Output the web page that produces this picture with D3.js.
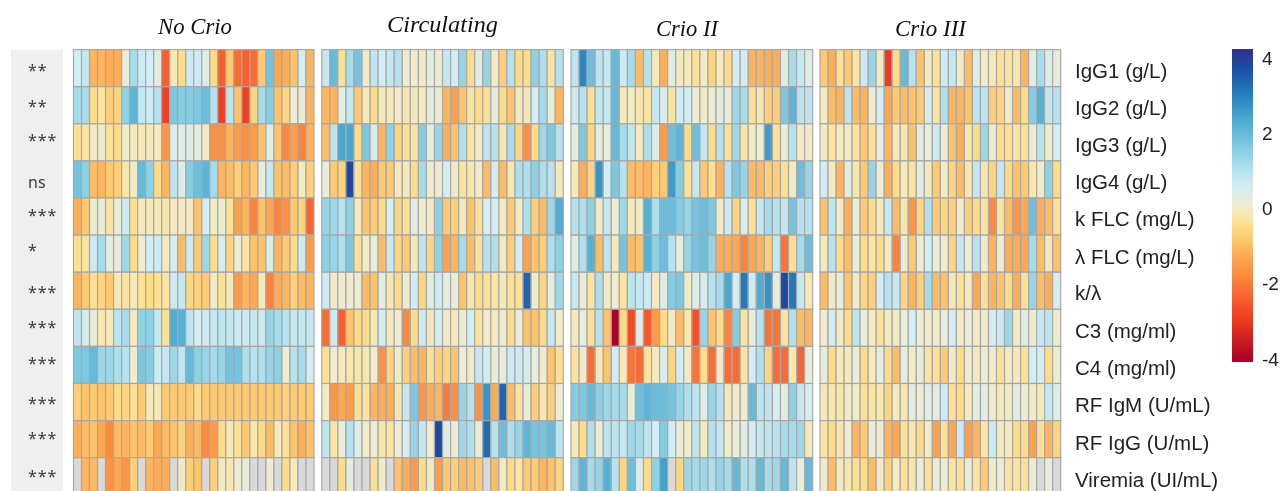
<!DOCTYPE html>
<html><head><meta charset="utf-8">
<script src="https://cdn.jsdelivr.net/npm/d3@7/dist/d3.min.js"></script>
<style>html,body{margin:0;padding:0;background:#fff;overflow:hidden}svg{display:block;filter:blur(0.35px)}</style>
</head><body><div id="chart"></div>
<script>
const rowLabels=["IgG1 (g/L)","IgG2 (g/L)","IgG3 (g/L)","IgG4 (g/L)","k FLC (mg/L)","λ FLC (mg/L)","k/λ","C3 (mg/ml)","C4 (mg/ml)","RF IgM (U/mL)","RF IgG (U/mL)","Viremia (UI/mL)"];
const significance=["**","**","***","ns","***","*","***","***","***","***","***","***"];
const panelTitles=["No Crio","Circulating","Crio II","Crio III"];
const legendTicks=[4,2,0,-2,-4];
const _=null;
const noCrio=[
[0.6,0.8,-1.1,-1.1,-1.2,-1.2,0.2,1.2,0.7,0.6,0.3,-2.4,-0.1,-0.5,0.7,0.7,0.4,-0.5,-2.4,-0.8,-2.2,-2.4,-2.2,-0.8,1.8,-1.3,-1.2,-0.9,0.6,-1.1],
[1.2,1.2,-0.5,-0.3,-0.7,-0.6,1.5,2.1,0.8,0.7,1.0,-2.9,1.7,1.6,1.6,1.7,1.9,1.0,-2.9,0.9,-0.9,-2.9,-0.6,1.2,1.6,-0.9,-0.6,0.1,0.2,-1.1],
[-0.4,-0.3,0,0.1,-0.4,-0.5,0.05,-0.05,-0.1,-0.1,-0.05,-1.6,0.5,0.4,0.4,0.3,0,-1.7,-1.7,-1.1,-1.5,-1.7,-1.5,-0.9,0.4,-0.9,-1.8,-1.4,-1.9,-1.1],
[1.8,1.5,-1,-1.1,-0.8,-0.7,-0.2,0,2.0,1.5,-0.5,-1.1,0.9,0.4,1.6,1.9,2.1,1.2,-1.1,-1,-0.7,-1.1,-0.8,0.2,0.8,-0.9,-1.0,-0.7,0,-0.7],
[-1.2,-0.8,0.1,0.2,-0.3,0.2,0.7,-0.4,-0.1,-0.1,-0.1,-0.2,-0.1,0,0,-0.9,0.6,0,0.1,-0.4,-1.4,-1.1,-1.9,-0.9,-1.3,-1.9,-1.7,-0.8,-0.6,-2.3],
[-0.4,-0.3,0.7,1.2,0.3,0.2,1.3,-0.5,0.1,0.6,0.7,-0.1,0.6,-1.0,0.7,-0.8,1.3,-0.5,0.6,-0.6,0.1,-0.3,-0.9,-0.9,0.5,-1.1,-0.8,-0.5,0.7,-1.5],
[-1.1,-0.8,-0.4,-0.6,-0.8,-0.1,-0.3,-0.1,-0.4,-0.5,-0.4,-0.3,0.7,0.8,-0.6,-0.7,-0.8,0,-0.4,-0.1,-1.5,-1.1,-1.3,-0.1,-1.9,-1.2,-1.1,-0.7,-1.0,-1.1],
[0.9,0.5,0.2,-0.2,-0.1,0.9,1.2,-0.1,1.5,1.5,0.8,-0.4,2.3,2.2,0.9,0.5,0.7,0.8,0.9,0.8,0.7,0.7,0.8,0.7,1.4,1.2,1.0,0.8,0.8,0.8],
[1.7,1.7,2.0,1.3,1.3,1.1,1.0,0.1,1.7,1.6,0.7,0.8,1.3,0.9,2.0,1.5,1.4,1.2,1.4,1.8,1.8,1.1,1,1.1,1.4,1.5,0.1,1.0,1.2,0.5],
[-0.7,-0.9,-0.8,-0.9,-0.8,-0.5,-0.6,-0.4,-0.8,-0.1,-0.1,-0.8,-0.8,-0.8,-0.8,-0.5,-0.8,-0.8,-0.8,-0.8,-0.8,-0.8,-0.8,-0.8,-0.8,-0.8,-0.7,-0.8,-0.8,-0.8],
[-1.2,-1,-0.9,-1.3,-1.8,-1,-1.1,-0.9,-1,-0.8,-1.3,-1,-0.9,-0.6,-1.2,-1,-1.8,-1.5,-0.5,-0.1,-0.4,-0.8,-0.2,-0.5,-1,-0.1,-0.4,-0.9,-1.2,-0.9],
[_,-1.1,-1,_,-1.6,-1.3,-1.6,-0.7,_,-1.1,-1.2,-1.2,_,0,-0.7,-0.9,_,-0.7,0,-0.2,0.1,0.2,_,_,0.1,_,-0.5,-0.1,_,_]];
const circulating=[
[0.8,2.0,-0.4,1.2,1.8,0,0.9,0.6,0.8,1.0,0.1,0.05,0,0.3,0.1,0.8,0.6,1.4,-0.5,0.3,1.4,0,-0.7,1.0,-0.5,-0.5,1.5,1.1,-0.3,1.0],
[-1.1,-1.1,0.3,0.8,-0.8,-0.1,-0.5,-0.1,-0.1,0,-0.2,-0.1,-0.1,0.4,0.1,-1.1,-1.4,-0.9,-0.3,-0.5,-0.4,0.2,-0.5,-0.9,0,-0.1,0.6,1.2,0.2,-1.1],
[-1,0.9,2.4,2.4,-0.5,1.7,0.5,-1.1,1.5,-0.6,-0.4,-0.3,1.6,0.3,1.4,-1.2,-0.9,1.1,-0.3,0,0.9,1,-0.2,1.2,-0.6,-1.7,-0.5,1.3,1.7,1.0],
[0.2,-0.8,-0.6,3.8,-0.4,-1.1,-1.2,-0.8,-0.8,-0.1,-0.1,-0.5,1.2,0.05,0.1,0.6,0,-0.3,-0.2,0,-1,0.5,-1.0,-0.2,1.1,1.1,1.5,1.1,1.0,-0.1],
[1.4,1.3,1.0,1.5,-0.1,-0.9,-0.8,-0.5,0.6,-0.6,-0.4,0.4,0.05,0,1.5,-0.8,-0.7,-0.1,-0.9,-0.4,0.6,0.6,0,-0.8,-0.05,1.1,-0.7,-1,1.3,2.3],
[1.5,1.4,1.1,1.7,-0.4,0,0.2,-1,0.8,-0.6,-0.8,-0.1,0.9,-0.6,1.5,-1.4,-1.1,1.2,-1,-0.4,1,1.1,-0.1,-0.7,0.5,-1.4,-0.9,-0.7,1.1,1.5],
[0.7,0,0.1,0.1,0.1,-1,-0.9,0.3,-0.2,-0.5,0.1,0.6,-0.6,0.4,0.7,0.3,0.2,-0.9,-0.2,-0.5,-0.4,-0.3,-0.1,-0.4,-0.4,3.4,0.05,-0.6,0.3,1.3],
[-2.2,0.7,-2.4,-0.9,-0.5,-0.5,-0.2,0.6,-0.1,0.1,-1.8,-0.5,0.7,-0.1,0.6,0,-0.1,0.1,0.6,-0.4,0.05,-0.1,0.1,-0.5,0.2,-0.9,-0.9,-0.5,0.8,0],
[-0.4,0.1,-0.1,-0.2,-0.2,-0.2,0.05,-1.7,-0.6,0,-0.7,-1,-1.1,-0.4,-0.7,-0.6,-0.9,0.2,0,0.8,0.6,0.2,0.2,0.7,0.7,0.5,0.2,0.1,-0.9,-0.4],
[0,-1.6,-1.3,-1.5,-0.4,-0.3,-1.1,-1.2,-1.2,-0.2,0.8,1.7,-1.6,-1.2,-1.1,-2,-1.7,1.4,1.0,-1.7,2.7,-1.2,3.4,-1,-0.3,0.2,-0.7,-0.2,-0.7,0.1],
[0.9,-0.3,0.2,1.0,0.4,0,0.1,-0.2,-0.3,0.1,0.6,1.4,0.8,0.05,3.8,0.4,0.1,1.3,1.1,0.2,3.3,1.0,1.9,1.1,1.4,2.1,1.8,1.8,2.0,0.9],
[_,_,-0.5,0.3,_,_,-0.4,0.05,_,-0.9,-1.2,-1.5,-0.5,0,-1.5,-0.8,-0.7,-1,-0.9,-0.8,_,-1,0,-0.5,-0.3,-0.8,-0.8,-1.1,-0.9,-0.6]];
const crioII=[
[0.9,2.9,1.9,0.9,0.8,2.0,0.7,1.2,-1,1,-0.1,-1.2,0.4,-0.05,-0.1,-0.4,0,-0.6,-0.1,-0.5,0.6,0.6,-1.1,-1.1,-1.2,-1.2,0.3,1.2,0.8,0.4],
[0.7,1.0,-0.4,0.8,0.8,2.0,-0.1,0,-0.2,-0.3,0.8,0.5,-0.3,0.6,0.6,0.1,0,0.1,0.3,0.2,1.3,1.2,-0.4,-0.2,-0.7,-0.7,1.7,2.1,0.9,0.9],
[0.3,1.7,-0.6,0.3,0.2,2.0,1.2,0.8,-0.1,1.1,0.4,-1.5,1.9,2.1,-0.5,1.9,0.8,-0.5,1.0,-0.4,1.3,-0.3,0,0.1,2.6,-0.4,0.1,1,0,-0.05],
[-0.1,-1.2,-0.6,2.7,0.6,1.7,1,-1,-1,-1.1,-0.7,-0.8,2.6,1.6,-0.4,0.8,-0.8,-0.4,-1.1,1,1.7,1.4,-1,-1,-0.7,-0.7,-0.4,0,1.9,1.4],
[1,1.1,1.5,0,0.8,0.1,1.3,-0.1,0,2.2,1.1,1.9,1.9,1.6,1.4,1.8,1.9,1.7,0,0.7,-0.6,0.5,-0.4,0.8,1.2,1,0.8,1.8,1,1],
[0.4,1.1,2.2,-1,0.9,-0.1,1.8,-1,-0.9,2.2,1.5,1.9,1.0,0.2,1.4,1.8,1.9,1.4,-1.2,-1.2,-1.3,-1.9,-1.3,-1.1,-0.7,0.8,-2.1,-0.4,1.2,1.9],
[0.8,0.2,-0.3,1.1,0,0.1,-0.3,0.9,0.8,0.7,-0.05,0.4,1.6,1.7,0,0.4,0.5,1,1.2,2.4,0.5,3.1,0.7,2.3,2.7,0.3,3.8,3.1,0.8,-0.2],
[-0.1,0.3,-0.4,1,-0.9,-4,-0.5,-2.7,0.4,-2.5,-1.5,-0.5,0,-1,-0.2,-2.6,1.4,-0.9,-0.5,-1.9,1.6,-0.3,0.2,1,-2.1,-2.1,-0.3,1.1,-1,-1.1],
[-0.3,0,-2.2,-0.1,-0.9,0.6,-0.1,-2.1,-2.2,-0.3,-0.1,0.5,-0.6,0.6,0,-2.1,-0.5,-2.2,0,-2.2,-2.2,-0.3,0.6,1.1,-0.6,-2.2,-2.2,-0.2,-2.3,0.2],
[1.6,1.7,2.0,1.5,1.3,1.2,1.2,0.2,1.9,2.1,1.9,1.9,1.8,1.4,1.1,0.9,0.4,1.4,1,-0.1,0.05,0.1,2.0,0.9,0.9,0.5,0.3,1.5,0.8,0.6],
[-0.1,-0.5,1.1,0.1,0.9,0.9,0.8,1.3,1.2,0.9,0.6,1.6,0.6,0.2,0,0.9,-0.1,1,0.8,0,0.2,0.3,0.6,0.8,0.9,1,1.2,1.2,1.3,-0.1],
[1.3,2.1,1.2,1.4,2.2,1,-0.6,1.9,0.5,-0.5,1.5,2.5,_,-0.6,1.3,1.2,1.3,1.1,1.4,1.2,2,1.1,1.1,2,1.2,1.3,2,0.9,0.2,2]];
const crioIII=[
[-0.8,-1.2,-0.4,-0.8,-0.3,0.7,1.4,0,-3,-0.5,2.0,1,-0.9,-0.05,-0.4,0.7,0.8,0,-1,0.4,0,-0.1,-0.4,-0.3,-0.2,-1.1,0.3,1.2,0.4,0.2],
[-0.05,-1,-1.1,0.9,-1,-1.1,0.1,0.6,-1.3,-0.8,-1,-0.9,-0.8,0.5,-0.3,1.1,-1.1,-1.1,-0.9,0.9,0.9,-0.7,-0.6,0.05,-1,-0.5,1.6,2.2,0.8,1],
[0,-0.3,-0.05,0,-0.3,-0.8,-0.4,0.3,-1.1,-0.1,-0.2,-0.9,0.3,0.2,0.7,0.1,-0.9,-1.2,-0.2,-0.5,1.3,0.1,-0.5,-0.4,-0.3,-0.4,0.1,1,0,0.6],
[0.6,-0.05,-1.1,0.3,-0.2,-0.8,1.4,0.1,-1.2,-0.5,-0.1,-0.3,0.4,-0.1,-0.8,0,-0.6,-1,-0.2,0.8,-0.2,-0.6,0.8,-0.5,-0.9,-0.8,-0.2,0.05,1.5,-0.5],
[-0.9,0.9,0,-1.2,0.2,-0.8,-0.5,-0.1,0.8,-1,-0.2,-1.6,-0.6,1.1,-0.8,-0.6,-0.7,0.05,-0.7,-0.5,-0.3,-1.8,-0.3,-1,-1.6,-1.3,1.9,-1.2,-1,-0.4],
[-0.1,1,-0.5,-1,0.2,-0.5,-0.3,-0.5,0,-1.9,0.1,-0.8,0.1,0.6,0.2,0.05,-0.6,0.8,0.1,1,0.1,-1.1,0.1,-1.2,-1.2,-1.3,1.2,-1,-0.1,-0.9],
[-1,0,0.2,-0.9,0,-0.6,-0.7,0.6,1,0.8,-0.6,-1.1,-0.7,1.2,-1,-0.9,-0.1,-0.4,-0.1,-1.3,-0.4,-1.1,-0.9,-0.5,-1.2,-0.4,1.4,-1,-1.2,0.5],
[0.05,0.6,0,-0.5,0.9,0.2,-0.05,-0.4,-0.05,0,0.2,0.6,0.1,0,0,0.2,0.6,0,0.2,-0.05,0,0.6,0.7,1.3,-0.05,0.3,0.1,0.8,0.9,0.05],
[0.2,-0.5,-0.1,-0.1,0.2,-0.5,-0.1,0.3,-0.5,-1,0.3,-0.05,0.3,-0.3,-0.4,-0.8,0,-0.5,0.1,-0.1,0.1,0.05,-0.4,-0.05,-0.1,-0.4,0.6,0.6,-0.5,0.1],
[-0.1,-0.2,-0.2,0,0.05,-0.4,-0.3,-0.2,-0.6,-0.05,-0.2,0.3,0.1,0.4,0.4,0.7,-0.4,-0.5,-0.1,0.3,0.3,0.05,-0.1,-0.05,0.3,0.1,0,-0.1,0.8,0.4],
[-0.3,-0.5,-0.2,0.1,-1.1,-0.8,0.2,0.1,-1.1,-1.3,-0.4,-0.2,-0.5,0.05,-1.4,-0.4,-1.3,0.7,-1.4,-1.1,-0.3,0.7,-0.1,-0.05,-0.5,-0.5,-1.4,-0.4,-1.1,-0.6],
[0.05,-1,0,-0.2,-0.4,-0.5,-1,0,-0.7,-0.05,-0.4,-0.2,0.2,-0.4,0.2,0.1,-0.3,-0.4,0.2,-0.3,-0.8,0.05,0.2,-0.3,-0.3,-0.4,0.1,_,0.2,_]];
const panelValues=[noCrio,circulating,crioII,crioIII];
const colorStops=[-4,-3,-2.6,-2.2,-1.8,-1.4,-1.1,-0.8,-0.5,-0.3,-0.1,0.1,0.3,0.6,0.9,1.2,1.6,2,2.4,3,3.7,4.2];
const colorValues=["#ad0026","#ee3a20","#f5502a","#f96c35","#fc8a3e","#fda04c","#fdb45c","#fec970","#fedb87","#fbe4a0","#f5e9ba","#edebd0","#e2eddf","#d2edf4","#bde5f0","#a5dceb","#84cde2","#65b9da","#4aa8d0","#2580bf","#1b4fa5","#2f3192"];
const color=d3.scaleLinear().domain(colorStops).range(colorValues).clamp(true);

const W=1282,H=491;
const svg=d3.select("#chart").append("svg").attr("width",W).attr("height",H);
const panelX=[[73.5,314],[321.8,563.3],[571,812.7],[820,1060.7]];
const y=d3.scaleBand().domain(d3.range(12)).range([49.6,49.6+37.1*12]);
svg.append("rect").attr("x",11).attr("y",50).attr("width",52).attr("height",H-50).attr("fill","#efefef");
const sigY=[76,112,146,188,221,256,298,333,369,409,444,482];
svg.selectAll("text.sig").data(significance).join("text").attr("class","sig")
  .attr("x",28).attr("y",(d,i)=>sigY[i])
  .attr("font-family","Noto Sans,Open Sans,sans-serif").attr("font-size",d=>d==="ns"?16:16).attr("letter-spacing",d=>d==="ns"?0:0.9)
  .attr("fill","#3a3a3a").text(d=>d);
panelValues.forEach((rows,p)=>{
  const x=d3.scaleBand().domain(d3.range(30)).range(panelX[p]);
  const g=svg.append("g");
  rows.forEach((vals,r)=>{
    g.selectAll(null).data(vals).join("rect")
      .attr("x",(d,i)=>x(i)).attr("y",y(r)).attr("width",x.bandwidth()).attr("height",y.bandwidth())
      .attr("fill",d=>d===null?"#d9d9d9":color(d)).attr("stroke","#a8a8a8").attr("stroke-width",1.2);
  });
});
const titleX=[195,442.5,687,930.5],titleY=[34,32,36,36],titleW=[74,111,62,71];
svg.selectAll("text.t").data(panelTitles).join("text").attr("class","t")
  .attr("x",(d,i)=>titleX[i]).attr("y",(d,i)=>titleY[i]).attr("text-anchor","middle")
  .attr("textLength",(d,i)=>titleW[i]).attr("lengthAdjust","spacingAndGlyphs")
  .attr("font-family","Liberation Serif,serif").attr("font-style","italic").attr("font-size",24).attr("fill","#111").text(d=>d);
const labelY=[77.5,115,152,189,226,263.5,300,338,375,412,449.5,486.5];
svg.selectAll("text.r").data(rowLabels).join("text").attr("class","r")
  .attr("x",1075).attr("y",(d,i)=>labelY[i]).attr("font-family","Liberation Sans,Arial,sans-serif").attr("font-size",20.5).attr("fill","#222").text(d=>d);
const lg=svg.append("defs").append("linearGradient").attr("id","lg").attr("x1",0).attr("x2",0).attr("y1",1).attr("y2",0);
const legendY=d3.scaleLinear().domain([-4,4]).range([359,58]);
const ly0=49,ly1=362;
d3.range(0,1.0001,0.01).forEach(t=>{const v=legendY.invert(ly1+(ly0-ly1)*t);lg.append("stop").attr("offset",t).attr("stop-color",color(v));});
svg.append("rect").attr("x",1232).attr("y",ly0).attr("width",21).attr("height",ly1-ly0).attr("fill","url(#lg)");
const ax=svg.append("g").attr("transform","translate(1253,0)").call(d3.axisRight(legendY).tickValues(legendTicks).tickSize(0).tickPadding(9).tickFormat(d=>String(d)));
ax.select(".domain").remove();
ax.selectAll("text").attr("font-family","Liberation Sans,Arial,sans-serif").attr("font-size",19).attr("fill","#222");
</script></body></html>
